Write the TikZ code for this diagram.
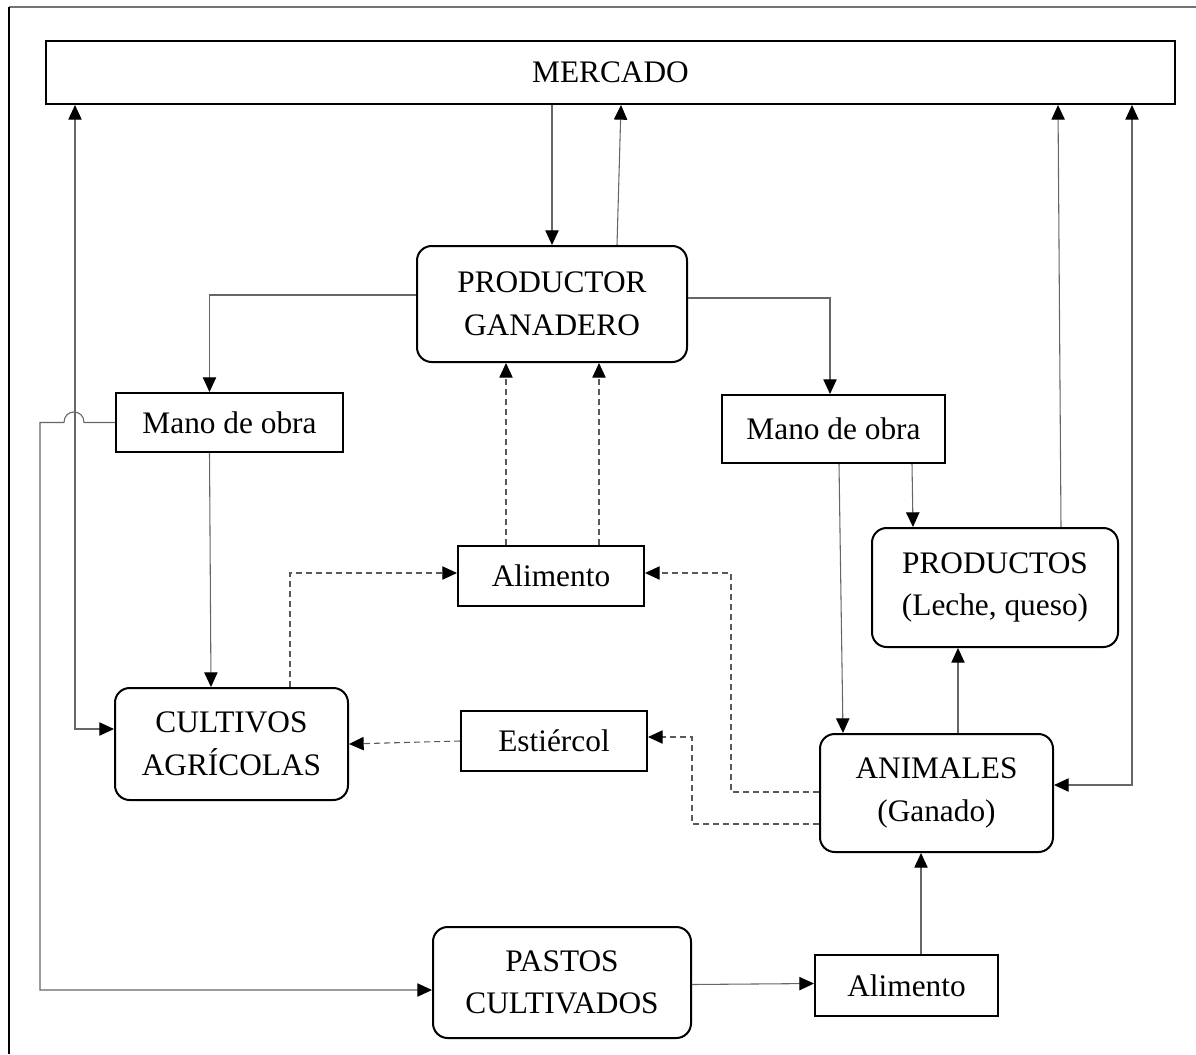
\documentclass[tikz,border=0pt]{standalone}
\usepackage{fontspec}
\setmainfont{Liberation Serif}
\usetikzlibrary{arrows.meta,calc}

\begin{document}
\begin{tikzpicture}[x=0.75pt, y=-0.75pt,
  >={Triangle[length=11pt,width=10pt,color=black]},
     box/.style = {draw, line width=1.5pt, inner sep=0pt, align=center,
                   font=\fontsize{23.5}{32}\selectfont},
    rbox/.style = {box, rounded corners=11pt},
     arr/.style = {draw=black!60, line width=0.8pt, ->},
     dsh/.style = {arr, draw=black!65, dash pattern=on 4.5pt off 3pt}
                    ]
\useasboundingbox (0,0) rectangle (1196,1054);
% page frame
\draw[black!55, line width=1.5pt] (9,7) -- (1196,7);
\draw[line width=1.2pt] (9,7) -- (9,1054);

% boxes
\node (mercado) [box, minimum width=846.75pt, minimum height=47.25pt] at (610.5,72.5) {MERCADO};
\node (prod)    [rbox, minimum width=202.5pt, minimum height=87pt]    at (552,304)    {PRODUCTOR\\GANADERO};
\node (manoL)   [box, minimum width=170.25pt, minimum height=44.25pt] at (229.5,422.5) {Mano de obra};
\node (manoR)   [box, minimum width=167.25pt, minimum height=51pt]    at (833.5,429)  {Mano de obra};
\node (alimA)   [box, minimum width=139.5pt, minimum height=45pt]     at (551,576)    {Alimento};
\node (estier)  [box, minimum width=139.5pt, minimum height=45pt]     at (554,741)    {Estiércol};
\node (cultiv)  [rbox, minimum width=174.75pt, minimum height=84pt]   at (231.5,744)  {CULTIVOS\\AGRÍCOLAS};
\node (product) [rbox, minimum width=184.5pt, minimum height=89.25pt] at (995,587.5)  {PRODUCTOS\\(Leche, queso)};
\node (animal)  [rbox, minimum width=174.75pt, minimum height=88.5pt] at (936.5,793)  {ANIMALES\\(Ganado)};
\node (pastos)  [rbox, minimum width=193.5pt, minimum height=83.25pt] at (562,982.5)  {PASTOS\\CULTIVADOS};
\node (alimB)   [box, minimum width=137.25pt, minimum height=45.75pt] at (906.5,985.5) {Alimento};

% solid flows
\draw[arr] (mercado.south -| prod.north) -- (prod.north);
\draw[arr] ($(prod.north)+(65,0)$) -- ($(mercado.south)+(10.5,0)$);
\draw[arr] ($(prod.west)+(0,-9)$) -| ($(manoL.north)+(-20,0)$);
\draw[arr] ($(prod.east)+(0,-6)$) -| ($(manoR.north)+(-3.5,0)$);
\draw[arr] ($(manoL.south)+(-20,0)$) -- ($(cultiv.north)+(-20.5,0)$);
\draw[arr] ($(manoR.south)+(5.5,0)$) -- ($(animal.north)+(-93.5,0)$);
\draw[arr] ($(manoR.south)+(78.5,0)$) -- ($(product.north)+(-82,0)$);
\draw[arr] ($(animal.north)+(21.5,0)$) -- ($(product.south)+(-37,0)$);
\draw[arr] ($(product.north)+(66,0)$) -- ($(mercado.south)+(447.5,0)$);
\draw[arr, <->] ($(mercado.south)+(521.5,0)$) |- ($(animal.east)+(0,-8)$);
\draw[arr, <->] ($(mercado.south)+(-535.5,0)$) |- ($(cultiv.west)+(0,-15)$);
\draw[arr] ($(pastos.east)+(0,2)$) -- ($(alimB.west)+(0,-2)$);
\draw[arr] ($(alimB.north)+(14.5,0)$) -- ($(animal.south)+(-15.5,0)$);

% mano de obra -> pastos, hopping over the line
\coordinate (hopR) at ($(manoL.west)+(-31,0)$);
\coordinate (hopL) at ($(manoL.west)+(-51,0)$);
\draw[arr] (manoL.west) -- (hopR)
      .. controls ($(hopR)+(0,-14)$) and ($(hopL)+(0,-14)$) .. (hopL)
      -- ($(hopL)+(-24,0)$) |- ($(pastos.west)+(0,7.5)$);

% dashed flows
\draw[dsh] ($(alimA.north)+(-45,0)$) -- ($(prod.south)+(-46,0)$);
\draw[dsh] ($(alimA.north)+(48,0)$) -- ($(prod.south)+(47,0)$);
\draw[dsh] ($(cultiv.north)+(58.5,0)$) |- ($(alimA.west)+(0,-3)$);
\draw[dsh] ($(animal.west)+(0,-1)$) -- ++(-88,0) |- ($(alimA.east)+(0,-3)$);
\draw[dsh] ($(animal.west)+(0,31)$) -- ++(-127,0) |- ($(estier.east)+(0,-4)$);
\draw[dsh] (estier.west) -- (cultiv.east);
\end{tikzpicture}
\end{document}
